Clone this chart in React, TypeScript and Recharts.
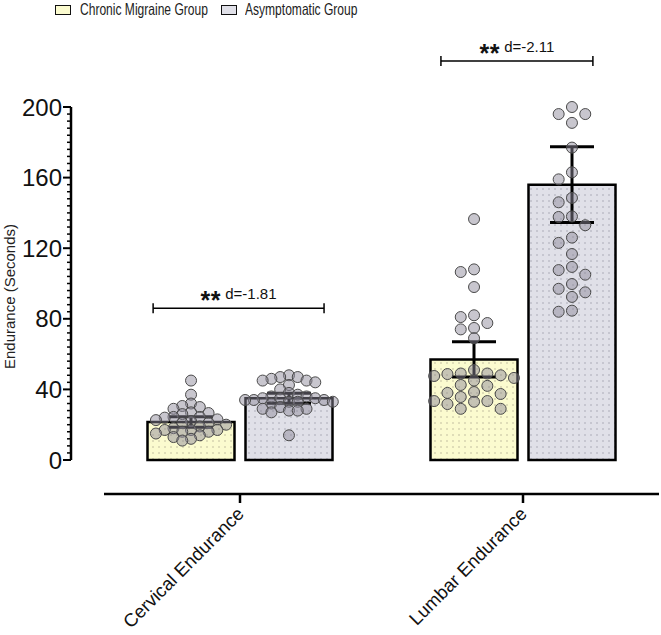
import React from "react"
import { Bar, ComposedChart, ErrorBar, ReferenceLine, Scatter, XAxis, YAxis } from "recharts"

const categories = ["Cervical Endurance", "Lumbar Endurance"]
const groups = ["Chronic Migraine Group", "Asymptomatic Group"]
const migraineMeans = [21.5, 57]
const asymptomaticMeans = [35, 156]
const migraineErrors = [3, 10]
const asymptomaticErrors = [2.8, 21.5]

const cervicalMigraine = [
  45, 37, 32, 30.6, 30, 29, 27, 26.6, 26, 24.4, 24.4, 24, 23, 22.6, 22, 21, 21, 20, 19, 18, 17, 17, 17, 16, 16, 15,
  14, 13, 12, 11,
]
const cervicalAsymptomatic = [
  48, 47, 47, 46, 45, 45, 44, 42.5, 40, 38, 37, 36, 36, 35, 35, 35, 34, 34, 34, 33, 33, 33, 32, 30, 29, 29, 28, 28,
  27, 14,
]
const lumbarMigraine = [
  136.5, 108, 106.5, 98, 82, 81, 77.6, 74.8, 74, 69, 51, 49, 49, 48.7, 48, 47.6, 46.5, 45, 42.5, 42, 38.5, 38, 37.4,
  35.7, 33.4, 33.4, 33, 31.7, 29, 29,
]
const lumbarAsymptomatic = [
  200, 196, 196, 191, 177, 163, 159, 148.5, 146, 138, 137.7, 133, 126, 123, 116.7, 109.4, 107.6, 105, 99.7, 97, 95,
  92.4, 84.6, 84,
]

const effectLabels = ["d=-1.81", "d=-2.11"]
const effectLevels = [86, 226]
const effectSpans = [
  [0.193, 0.797],
  [1.21, 1.747],
]

const majorTicks = [0, 40, 80, 120, 160, 200]
const yTicks = Array.from({ length: 51 }, (_, i) => i * 4)

const font = "'Liberation Sans', Arial, sans-serif"
const groupOffset = 0.173

// GraphPad-like column scatter: points keep their value, only shift sideways
const swarm = (values: number[], center: number, step: number, gap: number, maxCol: number) => {
  const placed: { x: number; y: number; col: number }[] = []
  const cols: number[] = [0]
  for (let k = 1; k <= maxCol; k++) cols.push(-k, k)
  ;[...values]
    .sort((a, b) => b - a)
    .forEach((v) => {
      const nearest = (col: number) =>
        placed.filter((p) => p.col === col).reduce((m, p) => Math.min(m, Math.abs(p.y - v)), Infinity)
      let col = cols.find((c) => nearest(c) >= gap)
      if (col === undefined) col = cols.reduce((best, c) => (nearest(c) > nearest(best) ? c : best), 0)
      placed.push({ x: center + col * step, y: v, col })
    })
  return placed
}

const rows = categories.map((category, i) => ({
  category,
  migraine: migraineMeans[i],
  asymptomatic: asymptomaticMeans[i],
  migraineErr: migraineErrors[i],
  asymptomaticErr: asymptomaticErrors[i],
}))

const migrainePoints = [
  ...swarm(cervicalMigraine, 0.5 - groupOffset, 0.031, 4.5, 5),
  ...swarm(lumbarMigraine, 1.5 - groupOffset, 0.047, 5.5, 4),
]
const asymptomaticPoints = [
  ...swarm(cervicalAsymptomatic, 0.5 + groupOffset, 0.031, 4.5, 5),
  ...swarm(lumbarAsymptomatic, 1.5 + groupOffset, 0.047, 5.5, 4),
]

const ValueTick = (props: any) => {
  const { x, y, payload } = props
  const axisX = x + 12
  const major = majorTicks.includes(payload.value)
  return (
    <g>
      <line x1={axisX - (major ? 8 : 4)} x2={axisX} y1={y} y2={y} stroke="#000" strokeWidth={major ? 2 : 1.5} />
      {major && (
        <text x={axisX - 9} y={y} textAnchor="end" dominantBaseline="central" fontSize={24} fontFamily={font} fill="#111">
          {payload.value}
        </text>
      )}
    </g>
  )
}

const CategoryTick = (props: any) => {
  const { x, y, payload } = props
  const axisY = y - 11
  const tx = x + 5
  const ty = axisY + 21
  return (
    <g>
      <line x1={x} x2={x} y1={axisY} y2={axisY + 9} stroke="#000" strokeWidth={2.5} />
      <text x={tx} y={ty} transform={`rotate(-45 ${tx} ${ty})`} textAnchor="end" fontSize={18.5} fontFamily={font} fill="#111">
        {payload.value}
      </text>
    </g>
  )
}

const YLabel = (props: any) => {
  const vb = props.viewBox
  const cx = vb.x + 9
  const cy = vb.y + vb.height / 2 - 4
  return (
    <text x={cx} y={cy} transform={`rotate(-90 ${cx} ${cy})`} textAnchor="middle" dominantBaseline="central" fontSize={15} fontFamily={font} fill="#222">
      Endurance (Seconds)
    </text>
  )
}

const bracket = (label: string) => (p: any) => {
  const { x1, x2, y1 } = p
  const mid = (x1 + x2) / 2
  return (
    <g>
      <line x1={x1} x2={x2} y1={y1} y2={y1} stroke="#000" strokeWidth={1.5} />
      <line x1={x1} x2={x1} y1={y1 - 5} y2={y1 + 5} stroke="#000" strokeWidth={1.5} />
      <line x1={x2} x2={x2} y1={y1 - 5} y2={y1 + 5} stroke="#000" strokeWidth={1.5} />
      <text x={mid} y={y1 - 9} textAnchor="middle" fontSize={15} fontFamily={font} fill="#111">
        <tspan fontSize={25} fontWeight="bold" dy={10} letterSpacing={0.5}>
          **
        </tspan>
        <tspan dy={-10}> {label}</tspan>
      </text>
    </g>
  )
}

const Dot = (props: any) => (
  <circle cx={props.cx} cy={props.cy} r={5.5} fill="#8c8898" fillOpacity={0.48} stroke="#4a4a4a" strokeWidth={1} />
)

const swatches = ["#fbfbcf", "#e0e0e8"]

const Legend = () => (
  <div style={{ position: "absolute", top: 0, left: 0, width: 661, height: 24 }}>
    {groups.map((g, i) => (
      <div key={g}>
        <div
          style={{
            position: "absolute",
            left: i === 0 ? 55 : 221,
            top: 5,
            width: 14,
            height: 8,
            border: "1.5px solid #111",
            background: swatches[i],
          }}
        />
        <div
          style={{
            position: "absolute",
            left: i === 0 ? 80 : 245,
            top: 1,
            fontSize: 16.5,
            lineHeight: 1,
            fontFamily: font,
            color: "#222",
            whiteSpace: "nowrap",
            transform: "scaleX(0.73)",
            transformOrigin: "left",
          }}
        >
          {g}
        </div>
      </div>
    ))}
  </div>
)

export default function App() {
  return (
    <div style={{ position: "relative", width: 661, height: 635, background: "#fff" }}>
      <style>{"body{margin:0}"}</style>
      <Legend />
      <ComposedChart
        width={661}
        height={635}
        data={rows}
        margin={{ top: 107, right: 2, bottom: 0, left: 0 }}
        barSize={87}
        barGap={11}
      >
        <defs>
          <pattern id="dotsYellow" width="6" height="6" patternUnits="userSpaceOnUse">
            <rect width="6" height="6" fill="#fbfbcf" />
            <circle cx="3" cy="3" r="0.8" fill="#bdb89c" />
          </pattern>
          <pattern id="dotsGray" width="6" height="6" patternUnits="userSpaceOnUse">
            <rect width="6" height="6" fill="#e0e0e8" />
            <circle cx="3" cy="3" r="0.8" fill="#a6a6b2" />
          </pattern>
        </defs>
        <XAxis
          xAxisId="cat"
          dataKey="category"
          height={141}
          padding={{ left: 27.5, right: -5.5 }}
          axisLine={{ stroke: "#000", strokeWidth: 2.5, strokeDasharray: "0 33 2000" }}
          tickLine={false}
          tickSize={9}
          tickMargin={2}
          interval={0}
          tick={<CategoryTick />}
        />
        <XAxis
          xAxisId="swarm"
          type="number"
          dataKey="x"
          domain={[0, 2]}
          allowDataOverflow
          hide
          padding={{ left: 27.5, right: -5.5 }}
        />
        <YAxis
          width={71}
          domain={[0, 200]}
          ticks={yTicks}
          interval={0}
          padding={{ top: 0, bottom: 34 }}
          axisLine={{ stroke: "#000", strokeWidth: 2.5, strokeDasharray: "353 1000" }}
          tickLine={false}
          tickSize={8}
          tickMargin={4}
          tick={<ValueTick />}
          label={YLabel}
        />
        <Bar
          xAxisId="cat"
          dataKey="migraine"
          name={groups[0]}
          fill="url(#dotsYellow)"
          stroke="#000"
          strokeWidth={2.5}
          isAnimationActive={false}
        >
          <ErrorBar dataKey="migraineErr" direction="y" width={22} stroke="#000" strokeWidth={3} />
        </Bar>
        <Bar
          xAxisId="cat"
          dataKey="asymptomatic"
          name={groups[1]}
          fill="url(#dotsGray)"
          stroke="#000"
          strokeWidth={2.5}
          isAnimationActive={false}
        >
          <ErrorBar dataKey="asymptomaticErr" direction="y" width={22} stroke="#000" strokeWidth={3} />
        </Bar>
        <Scatter xAxisId="swarm" data={migrainePoints} dataKey="y" shape={<Dot />} isAnimationActive={false} />
        <Scatter xAxisId="swarm" data={asymptomaticPoints} dataKey="y" shape={<Dot />} isAnimationActive={false} />
        {effectLabels.map((label, i) => (
          <ReferenceLine
            key={label}
            xAxisId="swarm"
            ifOverflow="visible"
            segment={[
              { x: effectSpans[i][0], y: effectLevels[i] },
              { x: effectSpans[i][1], y: effectLevels[i] },
            ]}
            shape={bracket(label)}
          />
        ))}
      </ComposedChart>
    </div>
  )
}
